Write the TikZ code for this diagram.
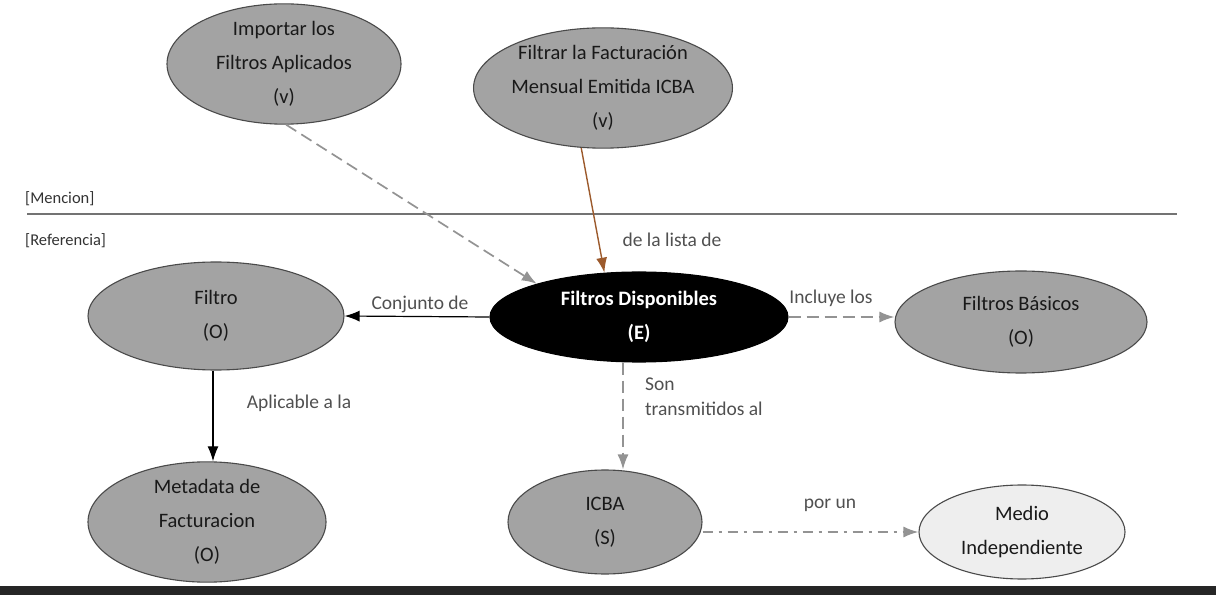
\documentclass[tikz,border=0pt]{standalone}
\usepackage{fontspec}
\setmainfont{Carlito}
\usetikzlibrary{shapes.geometric,arrows.meta}

\definecolor{nodefill}{HTML}{A3A3A3}
\definecolor{nodeline}{HTML}{4A4A4A}
\definecolor{lightfill}{HTML}{EEEEEE}
\definecolor{linkgray}{HTML}{939393}
\definecolor{brownlink}{HTML}{9C5A2C}
\definecolor{labelgray}{HTML}{505050}

\tikzset{
  concept/.style={ellipse, draw=nodeline, line width=1.1pt, fill=nodefill,
    inner sep=0pt, align=center, text=black!90,
    font=\fontsize{20.5}{34}\selectfont},
  mainconcept/.style={concept, fill=black, draw=black, text=white,
    font=\fontsize{20.5}{34}\selectfont\bfseries},
  lightconcept/.style={concept, fill=lightfill},
  linklabel/.style={text=labelgray, font=\fontsize{19.5}{25}\selectfont, inner sep=0pt},
  tag/.style={text=black!80, font=\fontsize{16.5}{18}\selectfont, inner sep=0pt, anchor=west},
  tip/.style={-{Latex[length=15pt,width=11pt]}},
  solidlink/.style={tip, draw=black, line width=1.2pt},
  grayrel/.style={tip, draw=linkgray, line width=1.7pt, dash pattern=on 12pt off 6pt},
  dashdotrel/.style={tip, draw=linkgray, line width=1.7pt, dash pattern=on 10pt off 6pt on 3pt off 6pt},
  brownrel/.style={tip, draw=brownlink, line width=1.4pt},
}

\begin{document}
\begin{tikzpicture}[x=1pt,y=-1pt]
\useasboundingbox (0,0) rectangle (1216,601);

% layer separator and labels
\draw[draw=black!55, line width=1.5pt] (27,214) -- (1177,214);
\node[tag] (mencion) at (25,199) {[Mencion]};
\node[tag] (referencia) at (25,241) {[Referencia]};

% bottom rule
\fill[black!85] (0,586) rectangle (1216,595);

% concepts
\node[concept, minimum width=234pt, minimum height=110pt] (imp) at (284,64)
  {Importar los\\Filtros Aplicados\\(v)};
\node[concept, minimum width=250pt, minimum height=100pt] (fil) at (603,88)
  {Filtrar la Facturación\\Mensual Emitida ICBA\\(v)};
\node[mainconcept, minimum width=298pt, minimum height=90pt] (disp) at (639,317)
  {Filtros Disponibles\\(E)};
\node[concept, minimum width=256pt, minimum height=108pt] (filtro) at (216,316)
  {Filtro\\(O)};
\node[concept, minimum width=252pt, minimum height=102pt] (bas) at (1021,322)
  {Filtros Básicos\\(O)};
\node[concept, minimum width=238pt, minimum height=106pt] (meta) at (207,522)
  {Metadata de\\Facturacion\\(O)};
\node[concept, minimum width=194pt, minimum height=104pt] (icba) at (605,522)
  {ICBA\\(S)};
\node[lightconcept, minimum width=206pt, minimum height=94pt] (medio) at (1022,532)
  {Medio\\Independiente};

% relations
\draw[grayrel] (imp.272) -- (disp.162);
\draw[brownrel] (fil.250) -- (disp.128);
\draw[solidlink] (disp.west) -- (filtro.east);
\draw[grayrel] (disp.east) -- (bas.west |- disp.east);
\draw[grayrel] ([xshift=-16pt]disp.south) -- ([xshift=18pt]icba.north);
\draw[solidlink] ([xshift=-3pt]filtro.south) -- ([xshift=6pt]meta.north);
\draw[dashdotrel] (icba.east |- medio.west) -- (medio.west);

% relation labels
\node[linklabel] (lbllista) at (672,240) {de la lista de};
\node[linklabel] (lblconj) at (420,304) {Conjunto de};
\node[linklabel] (lblincl) at (831,298) {Incluye los};
\node[linklabel, anchor=west, align=left] (lblson) at (645,397) {Son\\transmitidos al};
\node[linklabel] (lblaplic) at (299,403) {Aplicable a la};
\node[linklabel] (lblpor) at (830,505) {por un};
\end{tikzpicture}
\end{document}
